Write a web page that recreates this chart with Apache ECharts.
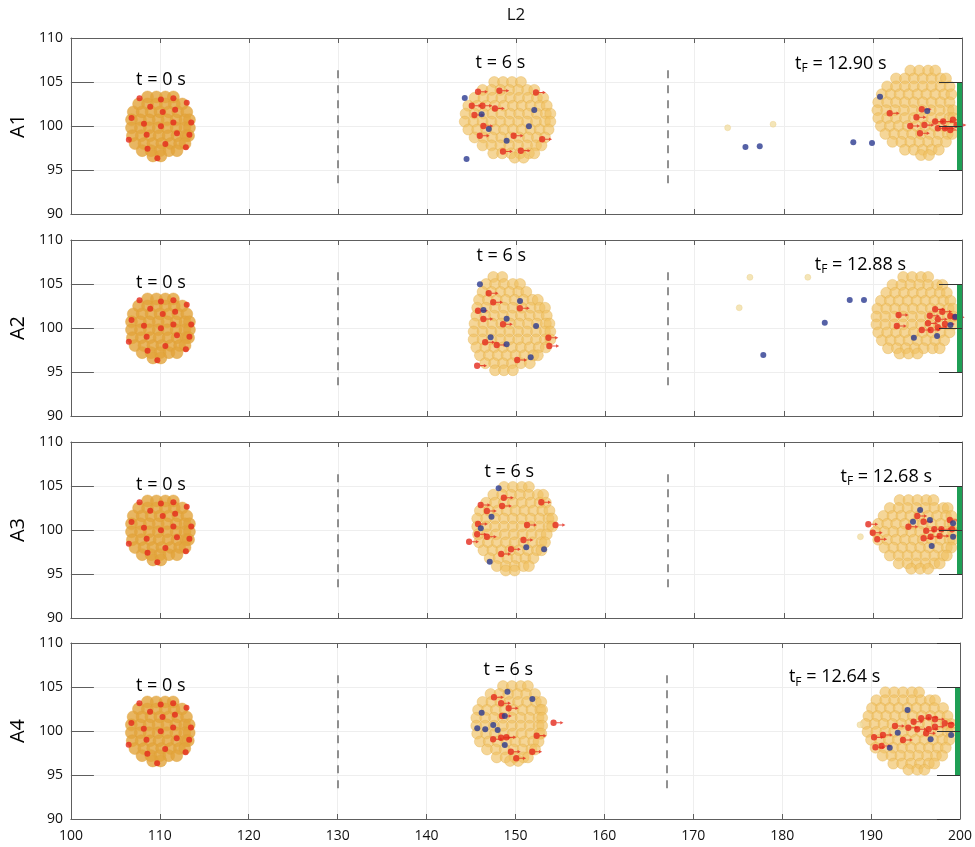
<!DOCTYPE html>
<html><head><meta charset="utf-8">
<script src="https://cdn.jsdelivr.net/npm/echarts@6/dist/echarts.min.js"></script>
<style>html,body{margin:0;padding:0;background:#fff}#c{width:975px;height:847px}</style>
</head><body><div id="c"></div>
<script>
// ---------- DATA ----------
const panelNames = ['A1', 'A2', 'A3', 'A4'];
const tfValues = ['12.90', '12.88', '12.68', '12.64'];
const xRange = [100, 200];
const yRange = [90, 110];
const dashX = [130, 167];
const dashY = [93.5, 107.0];
const exitX = 200;
const exitY = [95, 105];

// golden cloud rows: [y, x1, x2, ...]
const gold0Rows = [
  [103.3, 108.6, 109.6, 110.6, 111.5],
  [102.5, 107.6, 108.6, 109.6, 110.6, 111.6, 112.5],
  [101.6, 107.0, 108.0, 109.0, 110.0, 111.0, 112.0, 113.0],
  [100.7, 106.8, 107.8, 108.8, 109.8, 110.8, 111.8, 112.8, 113.3],
  [99.8, 106.8, 107.8, 108.8, 109.8, 110.8, 111.8, 112.8, 113.3],
  [98.9, 106.9, 107.9, 108.9, 109.9, 110.9, 111.9, 112.9, 113.2],
  [98.0, 107.2, 108.2, 109.2, 110.2, 111.2, 112.2, 112.8],
  [97.2, 108.0, 109.0, 110.0, 111.0, 111.9],
  [96.6, 109.2, 110.1]
];
const goldA1_t6 = [
  [105.0, 147.5, 148.5, 149.5, 150.5],
  [104.1, 146.2, 147.2, 148.2, 149.2, 150.2, 151.2, 152.0],
  [103.2, 145.3, 146.3, 147.3, 148.3, 149.3, 150.3, 151.3, 152.3, 153.0],
  [102.3, 144.6, 145.6, 146.6, 147.6, 148.6, 149.6, 150.6, 151.6, 152.6, 153.4],
  [101.4, 144.3, 145.3, 146.3, 147.3, 148.3, 149.3, 150.3, 151.3, 152.3, 153.3, 153.8],
  [100.5, 144.2, 145.2, 146.2, 147.2, 148.2, 149.2, 150.2, 151.2, 152.2, 153.2, 153.8],
  [99.6, 144.6, 145.6, 146.6, 147.6, 148.6, 149.6, 150.6, 151.6, 152.6, 153.6],
  [98.7, 145.3, 146.3, 147.3, 148.3, 149.3, 150.3, 151.3, 152.3, 153.2],
  [97.8, 146.2, 147.2, 148.2, 149.2, 150.2, 151.2, 152.2, 152.8],
  [96.9, 147.4, 148.4, 149.4, 150.4, 151.4, 152.0],
  [96.4, 149.8, 150.8]
];
const goldA1_tF = [
  [106.3, 194.2, 195.2, 196.2, 197.0],
  [105.4, 192.6, 193.6, 194.6, 195.6, 196.6, 197.6, 198.2],
  [104.5, 191.6, 192.6, 193.6, 194.6, 195.6, 196.6, 197.6, 198.6],
  [103.6, 191.0, 192.0, 193.0, 194.0, 195.0, 196.0, 197.0, 198.0, 198.8],
  [102.7, 190.6, 191.6, 192.6, 193.6, 194.6, 195.6, 196.6, 197.6, 198.6],
  [101.8, 190.5, 191.5, 192.5, 193.5, 194.5, 195.5, 196.5, 197.5, 198.5, 199.0],
  [100.9, 190.6, 191.6, 192.6, 193.6, 194.6, 195.6, 196.6, 197.6, 198.6, 199.0],
  [100.0, 190.9, 191.9, 192.9, 193.9, 194.9, 195.9, 196.9, 197.9, 198.8],
  [99.1, 191.4, 192.4, 193.4, 194.4, 195.4, 196.4, 197.4, 198.4, 198.9],
  [98.2, 192.2, 193.2, 194.2, 195.2, 196.2, 197.2, 198.2],
  [97.3, 193.6, 194.6, 195.6, 196.6, 197.4],
  [96.7, 195.4, 196.3]
];
const goldA2_t6 = [
  [105.8, 147.4, 148.4],
  [105.0, 146.6, 147.6, 148.6, 149.6, 150.4],
  [104.1, 146.2, 147.2, 148.2, 149.2, 150.2, 151.1],
  [103.2, 145.8, 146.8, 147.8, 148.8, 149.8, 150.8, 151.8, 152.4],
  [102.3, 145.6, 146.6, 147.6, 148.6, 149.6, 150.6, 151.6, 152.6, 153.2],
  [101.4, 145.5, 146.5, 147.5, 148.5, 149.5, 150.5, 151.5, 152.5, 153.4],
  [100.5, 145.3, 146.3, 147.3, 148.3, 149.3, 150.3, 151.3, 152.3, 153.3, 153.7],
  [99.6, 145.2, 146.2, 147.2, 148.2, 149.2, 150.2, 151.2, 152.2, 153.2, 153.8],
  [98.7, 145.2, 146.2, 147.2, 148.2, 149.2, 150.2, 151.2, 152.2, 153.2, 153.8],
  [97.8, 145.5, 146.5, 147.5, 148.5, 149.5, 150.5, 151.5, 152.5, 153.3],
  [96.9, 145.9, 146.9, 147.9, 148.9, 149.9, 150.9, 151.9, 152.4],
  [96.0, 146.5, 147.5, 148.5, 149.5, 150.5, 151.5],
  [95.2, 147.6, 148.6, 149.6]
];
const goldA2_tF = [
  [105.8, 193.4, 194.4, 195.4, 196.2],
  [104.9, 192.2, 193.2, 194.2, 195.2, 196.2, 197.2, 197.8],
  [104.0, 191.5, 192.5, 193.5, 194.5, 195.5, 196.5, 197.5, 198.3],
  [103.1, 190.9, 191.9, 192.9, 193.9, 194.9, 195.9, 196.9, 197.9, 198.7],
  [102.2, 190.5, 191.5, 192.5, 193.5, 194.5, 195.5, 196.5, 197.5, 198.5, 199.0],
  [101.3, 190.4, 191.4, 192.4, 193.4, 194.4, 195.4, 196.4, 197.4, 198.4, 199.0],
  [100.4, 190.4, 191.4, 192.4, 193.4, 194.4, 195.4, 196.4, 197.4, 198.4, 199.0],
  [99.5, 190.6, 191.6, 192.6, 193.6, 194.6, 195.6, 196.6, 197.6, 198.6],
  [98.6, 191.0, 192.0, 193.0, 194.0, 195.0, 196.0, 197.0, 198.0],
  [97.7, 191.7, 192.7, 193.7, 194.7, 195.7, 196.7, 197.5],
  [97.1, 193.0, 194.0, 195.0]
];
const goldA3_t6 = [
  [104.9, 148.6, 149.6, 150.6, 151.4],
  [104.0, 147.4, 148.4, 149.4, 150.4, 151.4, 152.4, 153.0],
  [103.1, 146.6, 147.6, 148.6, 149.6, 150.6, 151.6, 152.6, 153.3],
  [102.2, 145.9, 146.9, 147.9, 148.9, 149.9, 150.9, 151.9, 152.9, 153.7],
  [101.3, 145.6, 146.6, 147.6, 148.6, 149.6, 150.6, 151.6, 152.6, 153.6, 154.0],
  [100.4, 145.6, 146.6, 147.6, 148.6, 149.6, 150.6, 151.6, 152.6, 153.6, 154.0],
  [99.5, 145.7, 146.7, 147.7, 148.7, 149.7, 150.7, 151.7, 152.7, 153.4],
  [98.6, 145.8, 146.8, 147.8, 148.8, 149.8, 150.8, 151.8, 152.8, 153.2],
  [97.7, 146.3, 147.3, 148.3, 149.3, 150.3, 151.3, 152.3, 152.8],
  [96.8, 147.0, 148.0, 149.0, 150.0, 151.0, 151.9],
  [95.9, 147.8, 148.8, 149.8, 150.8, 151.4],
  [95.4, 148.8, 149.8]
];
const goldA3_tF = [
  [103.4, 193.0, 194.0, 195.0, 196.0, 196.8],
  [102.5, 191.9, 192.9, 193.9, 194.9, 195.9, 196.9, 197.9, 198.4],
  [101.6, 191.2, 192.2, 193.2, 194.2, 195.2, 196.2, 197.2, 198.2, 198.8],
  [100.7, 190.6, 191.6, 192.6, 193.6, 194.6, 195.6, 196.6, 197.6, 198.6, 199.0],
  [99.8, 190.3, 191.3, 192.3, 193.3, 194.3, 195.3, 196.3, 197.3, 198.3, 199.0],
  [98.9, 190.6, 191.6, 192.6, 193.6, 194.6, 195.6, 196.6, 197.6, 198.6, 199.0],
  [98.0, 191.3, 192.3, 193.3, 194.3, 195.3, 196.3, 197.3, 198.3, 198.8],
  [97.1, 191.9, 192.9, 193.9, 194.9, 195.9, 196.9, 197.9, 198.3],
  [96.2, 192.9, 193.9, 194.9, 195.9, 196.9, 197.5],
  [95.6, 194.3, 195.3, 196.2]
];
const goldA4_t6 = [
  [105.1, 148.6, 149.6, 150.6, 151.4],
  [104.2, 147.2, 148.2, 149.2, 150.2, 151.2, 152.2],
  [103.3, 146.3, 147.3, 148.3, 149.3, 150.3, 151.3, 152.3, 152.9],
  [102.4, 145.8, 146.8, 147.8, 148.8, 149.8, 150.8, 151.8, 152.8, 153.0],
  [101.5, 145.6, 146.6, 147.6, 148.6, 149.6, 150.6, 151.6, 152.6, 153.0],
  [100.6, 145.6, 146.6, 147.6, 148.6, 149.6, 150.6, 151.6, 152.6, 153.0],
  [99.7, 145.7, 146.7, 147.7, 148.7, 149.7, 150.7, 151.7, 152.7, 152.9],
  [98.8, 146.0, 147.0, 148.0, 149.0, 150.0, 151.0, 152.0, 152.6],
  [97.9, 146.8, 147.8, 148.8, 149.8, 150.8, 151.8, 152.2],
  [97.0, 147.9, 148.9, 149.9, 150.9, 151.4],
  [96.6, 149.4, 150.3]
];
const goldA4_tF = [
  [104.4, 191.6, 192.6, 193.6, 194.6, 195.4],
  [103.5, 190.6, 191.6, 192.6, 193.6, 194.6, 195.6, 196.6, 197.2],
  [102.6, 190.1, 191.1, 192.1, 193.1, 194.1, 195.1, 196.1, 197.1, 198.1],
  [101.7, 189.7, 190.7, 191.7, 192.7, 193.7, 194.7, 195.7, 196.7, 197.7, 198.6],
  [100.8, 189.4, 190.4, 191.4, 192.4, 193.4, 194.4, 195.4, 196.4, 197.4, 198.4, 199.0],
  [99.9, 189.6, 190.6, 191.6, 192.6, 193.6, 194.6, 195.6, 196.6, 197.6, 198.6, 199.0],
  [99.0, 190.0, 191.0, 192.0, 193.0, 194.0, 195.0, 196.0, 197.0, 198.0, 198.8],
  [98.1, 190.5, 191.5, 192.5, 193.5, 194.5, 195.5, 196.5, 197.5, 198.4],
  [97.2, 191.3, 192.3, 193.3, 194.3, 195.3, 196.3, 197.3, 198.0],
  [96.3, 192.5, 193.5, 194.5, 195.5, 196.5, 197.1],
  [95.6, 194.2, 195.2, 196.0]
];
const fadedA1 = [[173.7, 99.8], [178.8, 100.2]];
const fadedA2 = [[176.2, 105.76], [182.7, 105.76], [175.0, 102.3]];
const fadedA3 = [[188.6, 99.24]];
const fadedA4 = [[188.75, 100.7]];

// red (marked) agents
const redT0 = [[107.7,103.15],[110.1,103.0],[111.5,103.15],[113.0,102.65],[108.9,102.2],[110.3,101.6],[111.7,101.85],[106.8,100.9],[108.2,100.26],[110.1,99.97],[111.5,100.4],[113.5,100.4],[108.5,99.0],[111.9,99.17],[113.3,99.0],[106.5,98.44],[110.6,97.95],[112.9,97.58],[108.6,97.42],[109.7,96.33]];
const redA1_t6 = [[145.7,103.9],[148.1,104.0],[152.2,103.8],[145.0,102.3],[146.2,102.3],[147.6,102.0],[145.3,101.25],[146.3,100.0],[145.9,98.9],[149.7,98.9],[152.9,98.5],[148.5,97.1],[150.5,97.2]];
const redA1_tF = [[191.9,101.44],[195.5,101.9],[194.9,101.0],[197.0,100.5],[197.9,100.5],[199.0,100.7],[194.2,100.0],[195.8,100.1],[197.3,99.74],[198.1,99.74],[198.7,99.55],[195.3,99.17],[199.4,100.1]];
const redA2_t6 = [[146.9,103.94],[147.4,102.92],[145.7,101.97],[146.3,101.02],[150.4,102.24],[148.5,100.42],[146.5,98.38],[147.8,98.07],[153.6,98.9],[153.7,97.95],[150.1,96.36],[145.6,95.72]];
const redA2_tF = [[192.9,101.48],[192.7,100.23],[197.0,102.12],[197.8,101.85],[198.7,101.36],[196.4,101.4],[197.3,100.99],[196.2,100.53],[198.1,100.45],[195.5,99.77],[196.5,99.77],[197.3,100.08],[199.2,101.22]];
const redA3_t6 = [[148.6,103.67],[152.8,103.15],[146.0,102.84],[146.7,102.16],[148.4,102.73],[145.7,100.68],[145.6,99.51],[146.7,99.24],[144.7,98.67],[151.2,100.57],[154.4,100.57],[150.8,98.86],[149.4,97.81],[148.3,97.27]];
const redA3_tF = [[189.5,100.65],[190.0,99.69],[190.5,98.94],[195.0,101.59],[195.7,100.94],[194.0,100.37],[196.0,99.92],[196.9,100.08],[197.7,100.08],[198.9,100.08],[198.65,101.14],[195.7,99.06],[196.5,99.24],[197.5,99.32]];
const redA4_t6 = [[147.6,103.83],[148.4,103.15],[149.25,102.58],[148.5,101.7],[154.3,100.94],[152.4,99.47],[147.5,99.06],[148.4,99.24],[149.0,99.28],[149.5,97.65],[151.9,97.65],[150.1,96.9]];
const redA4_tF = [[190.35,99.28],[191.35,99.55],[190.5,98.15],[191.2,98.3],[192.7,100.57],[193.6,98.98],[194.2,100.37],[194.8,101.06],[195.65,101.44],[196.5,101.56],[197.2,101.33],[198.3,100.87],[199.0,100.68],[195.2,100.19],[196.5,100.19],[197.2,100.49],[196.2,99.74]];

// blue agents
const blueA1_t6 = [[144.2,103.18],[152.0,101.82],[146.1,101.33],[146.9,99.66],[151.4,99.97],[148.9,98.33],[144.4,96.25]];
const blueA1_tF = [[190.8,103.33],[196.1,101.7],[175.7,97.61],[177.3,97.69],[187.8,98.15],[189.9,98.07]];
const blueA2_t6 = [[145.9,104.97],[150.4,103.07],[146.3,102.05],[148.9,101.06],[152.2,100.23],[147.1,98.95],[148.9,98.15],[151.6,96.67]];
const blueA2_tF = [[177.7,96.93],[184.6,100.6],[187.4,103.18],[189.0,103.18],[194.6,98.9],[197.2,99.09],[198.7,100.34],[199.25,101.28]];
const blueA3_t6 = [[148.0,104.74],[147.2,101.51],[146.0,100.19],[151.1,98.03],[153.1,97.81],[147.0,96.4]];
const blueA3_tF = [[195.3,102.27],[196.4,101.14],[194.5,100.94],[199.0,100.76],[199.0,99.24],[196.6,98.18]];
const blueA4_t6 = [[149.1,104.47],[151.9,103.64],[146.2,102.08],[148.8,101.7],[147.5,100.68],[145.7,100.31],[146.6,100.19],[148.0,100.11],[148.8,98.41]];
const blueA4_tF = [[194.1,102.39],[193.0,99.81],[196.7,99.06],[199.0,99.55],[192.1,98.1]];

// annotation anchors (data coords): t=0, t=6, tF
const labelPos = [
  [[110.1, 105.2], [148.2, 107.2], [186.4, 107.1]],
  [[110.1, 105.1], [148.3, 108.2], [188.6, 107.2]],
  [[110.1, 105.1], [149.2, 106.6], [191.5, 106.05]],
  [[110.1, 105.1], [149.2, 106.9], [185.9, 106.1]]
];

const goldT6 = [goldA1_t6, goldA2_t6, goldA3_t6, goldA4_t6];
const goldTF = [goldA1_tF, goldA2_tF, goldA3_tF, goldA4_tF];
const fadedPts = [fadedA1, fadedA2, fadedA3, fadedA4];
const redT6 = [redA1_t6, redA2_t6, redA3_t6, redA4_t6];
const redTF = [redA1_tF, redA2_tF, redA3_tF, redA4_tF];
const blueT6 = [blueA1_t6, blueA2_t6, blueA3_t6, blueA4_t6];
const blueTF = [blueA1_tF, blueA2_tF, blueA3_tF, blueA4_tF];

// ---------- CHART ----------
const FONT = '"Open Sans", "Noto Sans", sans-serif';
const frameColor = '#5e5e5e';
const gridTops = [38, 240, 442, 643];
const gridH = 176;
const flat = rows => rows.flatMap(r => r.slice(1).map(x => [x, r[0]]));
const arrowSymbol = 'path://M0,3A3,3,0,1,1,6,3A3,3,0,1,1,0,3Z M5,2.5L10,2.5L10,3.5L5,3.5Z M9.5,1.4L12.5,3L9.5,4.6Z';

const grid = [], xAxis = [], yAxis = [], series = [];
for (let i = 0; i < 4; i++) {
  grid.push({ left: 70, right: 13, top: gridTops[i], height: gridH });
  xAxis.push({
    gridIndex: i, type: 'value', min: xRange[0], max: xRange[1], interval: 10, position: 'bottom', z: 0,
    axisLine: { show: true, onZero: false, lineStyle: { color: frameColor, width: 1 } },
    axisTick: { show: true, inside: true, length: 5, lineStyle: { color: frameColor } },
    axisLabel: { show: i === 3, fontSize: 14, color: '#111', margin: 10, fontFamily: FONT },
    splitLine: { show: true, lineStyle: { color: '#eeeeee', width: 1 } }
  });
  xAxis.push({
    gridIndex: i, type: 'value', min: xRange[0], max: xRange[1], interval: 10, position: 'top', z: 5,
    axisLine: { show: true, onZero: false, lineStyle: { color: frameColor, width: 1 } },
    axisTick: { show: true, inside: true, length: 5, lineStyle: { color: frameColor } },
    axisLabel: { show: false }, splitLine: { show: false }
  });
  yAxis.push({
    gridIndex: i, type: 'value', min: yRange[0], max: yRange[1], interval: 5, position: 'left', z: 0,
    name: panelNames[i], nameLocation: 'middle', nameGap: 42, nameRotate: 90,
    nameTextStyle: { fontSize: 20, color: '#000', fontFamily: FONT },
    axisLine: { show: true, onZero: false, lineStyle: { color: frameColor, width: 1 } },
    axisTick: { show: true, inside: true, length: 23, lineStyle: { color: frameColor } },
    axisLabel: { fontSize: 14, color: '#111', margin: 8, fontFamily: FONT },
    splitLine: { show: true, lineStyle: { color: '#eeeeee', width: 1 } }
  });
  yAxis.push({
    gridIndex: i, type: 'value', min: yRange[0], max: yRange[1], interval: 5, position: 'right', z: 5,
    axisLine: { show: true, onZero: false, lineStyle: { color: frameColor, width: 1 } },
    axisTick: { show: true, inside: true, length: 23, lineStyle: { color: '#333' } },
    axisLabel: { show: false }, splitLine: { show: false }
  });
  const xi = 2 * i, yi = 2 * i;
  series.push({
    type: 'scatter', xAxisIndex: xi, yAxisIndex: yi, z: 2, silent: true,
    data: flat(gold0Rows), symbolSize: 12,
    itemStyle: { color: '#e2a43b', borderColor: '#dfa036', borderWidth: 0.5 },
    markLine: {
      silent: true, symbol: 'none', animation: false, label: { show: false },
      lineStyle: { color: '#6e6e6e', type: [8, 7], width: 1.5 },
      data: dashX.map(x => [{ coord: [x, dashY[0]] }, { coord: [x, dashY[1]] }])
    }
  });
  series.push({
    type: 'scatter', xAxisIndex: xi, yAxisIndex: yi, z: 2, silent: true,
    data: flat(goldT6[i]).concat(flat(goldTF[i])), symbolSize: 11,
    itemStyle: { color: 'rgba(239,193,98,0.82)', borderColor: 'rgba(226,170,62,0.7)', borderWidth: 0.6 }
  });
  series.push({
    type: 'scatter', xAxisIndex: xi, yAxisIndex: yi, z: 2, silent: true,
    data: fadedPts[i], symbolSize: 6,
    itemStyle: { color: '#f1dea6', borderColor: '#ead08a', borderWidth: 0.5 }
  });
  series.push({
    type: 'scatter', xAxisIndex: xi, yAxisIndex: yi, z: 3, silent: true,
    data: redT0, symbolSize: 6, itemStyle: { color: '#e3291c' }
  });
  series.push({
    type: 'scatter', xAxisIndex: xi, yAxisIndex: yi, z: 3, silent: true,
    data: redT6[i].concat(redTF[i]), symbol: arrowSymbol, symbolSize: [13, 6.5], symbolOffset: [3.25, 0],
    itemStyle: { color: '#e3291c' }
  });
  series.push({
    type: 'scatter', xAxisIndex: xi, yAxisIndex: yi, z: 3, silent: true,
    data: blueT6[i].concat(blueTF[i]), symbolSize: 6, itemStyle: { color: '#2b3990' }
  });
  series.push({
    type: 'custom', xAxisIndex: xi, yAxisIndex: yi, z: 4, silent: true,
    data: [[exitX, exitY[0], exitY[1]]],
    encode: { x: 0, y: [1, 2] },
    renderItem: function (params, api) {
      const top = api.coord([api.value(0), api.value(2)]);
      const bot = api.coord([api.value(0), api.value(1)]);
      return { type: 'rect', shape: { x: top[0] - 5, y: top[1], width: 5, height: bot[1] - top[1] },
               style: { fill: '#1f9f55' } };
    }
  });
  const texts = ['t = 0 s', 't = 6 s', '{a|t}{s|F}{a| = ' + tfValues[i] + ' s}'];
  series.push({
    type: 'scatter', xAxisIndex: xi, yAxisIndex: yi, z: 6, silent: true,
    symbolSize: 1, itemStyle: { color: '#ffffff', opacity: 0.01 },
    data: labelPos[i].map((p, k) => ({ value: p, name: texts[k] })),
    label: {
      show: true, position: 'inside', formatter: p => p.name, opacity: 1,
      fontSize: 18, color: '#000', fontFamily: FONT, textBorderWidth: 0,
      rich: {
        a: { fontSize: 18, color: '#000', fontFamily: FONT },
        s: { fontSize: 12, color: '#000', fontFamily: FONT, padding: [10, 0, 0, 0] }
      }
    }
  });
}

const chart = echarts.init(document.getElementById('c'), null, { renderer: 'canvas' });
chart.setOption({
  animation: false,
  backgroundColor: '#ffffff',
  graphic: [{ type: 'text', x: 516, y: 15, style: { text: 'L2', fontSize: 17, fill: '#111', fontFamily: FONT, textAlign: 'center', textVerticalAlign: 'middle' } }],
  grid, xAxis, yAxis, series
});
</script>
</body></html>
